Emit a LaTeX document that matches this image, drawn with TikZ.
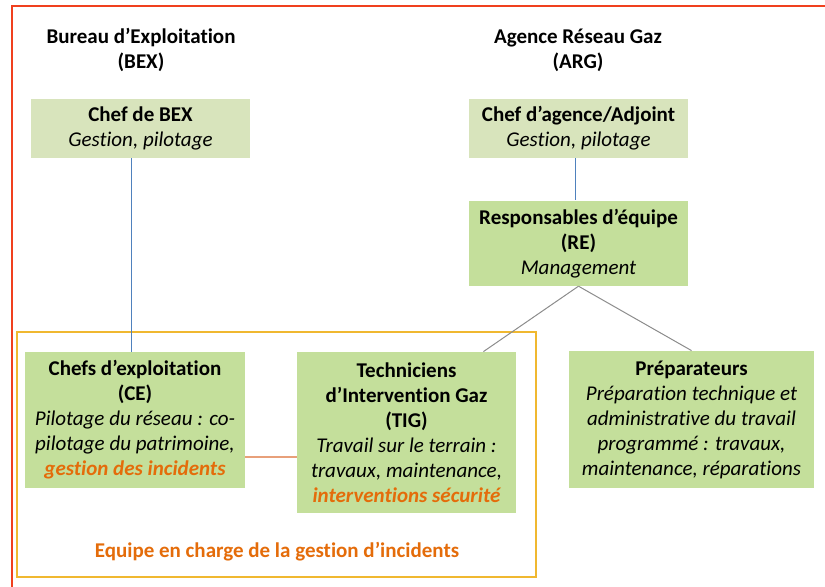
\documentclass[tikz,border=0pt]{standalone}
\usepackage{fontspec}
\setmainfont{Carlito}[Ligatures=NoCommon]
\usetikzlibrary{positioning,calc}
\definecolor{vertclair}{HTML}{D8E4BC}
\definecolor{vertfonce}{HTML}{C4DF9B}
\definecolor{orangeinc}{HTML}{E46C0A}
\definecolor{rougecadre}{HTML}{F0401E}
\definecolor{jaunecadre}{HTML}{F0B830}
\definecolor{bleulien}{HTML}{4F81BD}
\definecolor{saumon}{HTML}{E8A07A}
\tikzset{
chef/.style={rectangle,minimum width=109.5pt,minimum height=29.5pt,inner sep=2pt,
align=center,fill=vertclair,font=\fontsize{10.5}{12.5}\selectfont},
poste/.style={rectangle,minimum width=109.5pt,inner sep=2pt,
align=center,fill=vertfonce,font=\fontsize{10.5}{12.5}\selectfont},
entite/.style={align=center,font=\fontsize{10.5}{12.5}\selectfont\bfseries},
lien/.style={draw=gray!90,line width=0.5pt}
}
\newcommand{\inc}[1]{\textcolor{orangeinc}{\textbf{#1}}}

\begin{document}
\begin{tikzpicture}[x=0.5pt,y=-0.5pt]
\useasboundingbox (0,0) rectangle (825,587);

\draw[rougecadre,line width=1pt] (840,6) -- (12,6) -- (12,600);

\node[entite] (BEX) at (141,50) {Bureau d’Exploitation\\(BEX)};
\node[entite] (ARG) at (578,50) {Agence Réseau Gaz\\(ARG)};

\node[chef] (chefBEX) at (140.5,128.5) {\textbf{Chef de BEX}\\\textit{Gestion, pilotage}};
\node[chef] (chefARG) at (578.5,128.5) {\textbf{Chef d’agence/Adjoint}\\\textit{Gestion, pilotage}};
\node[poste,minimum height=42.5pt,below=21pt of chefARG] (RE)
  {\textbf{Responsables d’équipe}\\\textbf{(RE)}\\\textit{Management}};

\draw[jaunecadre,line width=1pt] (17,332) rectangle (536,577);

\node[poste,minimum width=110pt,minimum height=68pt] (CE) at (135,420)
  {\textbf{Chefs d’exploitation}\\\textbf{(CE)}\\\textit{Pilotage du réseau : co-}\\
   \textit{pilotage du patrimoine,}\\\textit{\inc{gestion des incidents}}};
\node[poste,minimum height=80.5pt] (TIG) at (406.5,432.5)
  {\textbf{Techniciens}\\\textbf{d’Intervention Gaz}\\\textbf{(TIG)}\\
   \textit{Travail sur le terrain :}\\\textit{travaux, maintenance,}\\\textit{\inc{interventions sécurité}}};
\node[poste,minimum width=122.5pt,minimum height=68.5pt] (PREP) at (691.5,419.5)
  {\textbf{Préparateurs}\\\textit{Préparation technique et}\\\textit{administrative du travail}\\
   \textit{programmé : travaux,}\\\textit{maintenance, réparations}};

\node[entite,text=orangeinc] (equipe) at (277,552) {Equipe en charge de la gestion d’incidents};

\draw[bleulien,line width=0.5pt] (CE.north -| 131,0) -- (chefBEX.south -| 131,0);
\draw[bleulien,line width=0.5pt] (chefARG.south -| 575,0) -- (RE.north -| 575,0);
\draw[lien] (RE.south) -- ($(TIG.north west)!0.85!(TIG.north east)$);
\draw[lien] (RE.south) -- (PREP.north);
\draw[saumon,line width=0.6pt] ($(CE.south east)!0.23!(CE.north east)$) coordinate (ceTig)
  -- (ceTig -| TIG.west);
\end{tikzpicture}
\end{document}
